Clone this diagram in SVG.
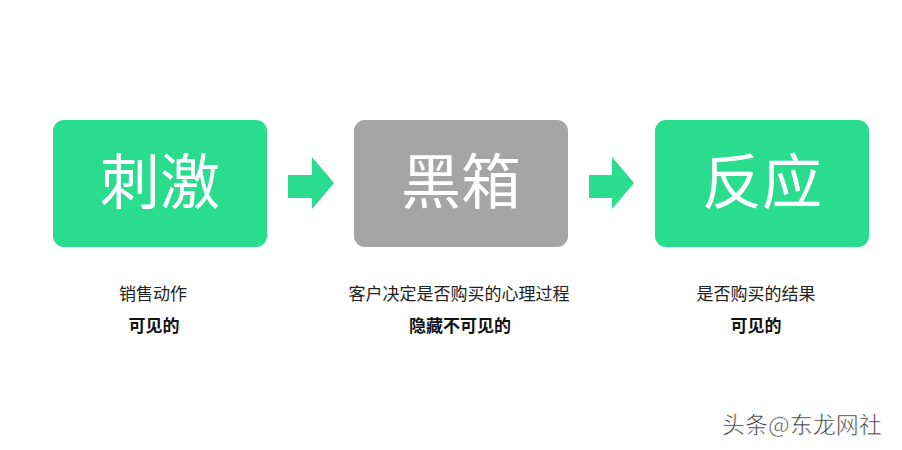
<svg xmlns="http://www.w3.org/2000/svg" width="902" height="450" viewBox="0 0 902 450">
<defs>
<style>
.green{fill:#2ADC8E}
.gray{fill:#A5A5A5}
.big{font-family:"Noto Sans CJK SC","Noto Sans",sans-serif;font-size:60px;fill:#ffffff;text-anchor:middle;font-weight:400}
.lab{font-family:"Noto Sans CJK SC",sans-serif;font-size:17px;fill:#222222;text-anchor:middle}
.bold{font-weight:bold;fill:#111111;font-size:17px}
.wm{font-family:"Noto Sans CJK SC",sans-serif;font-size:23px;fill:#333333;stroke:#ffffff;stroke-width:0.6}
</style>
</defs>
<rect width="902" height="450" fill="#ffffff"/>
<g id="node-stimulus">
<rect class="green" x="53" y="120" width="214" height="127" rx="11"/>
<text class="big" x="160" y="204">刺激</text>
<text class="lab" x="153" y="300">销售动作</text>
<text class="lab bold" x="154" y="332">可见的</text>
</g>
<g id="node-blackbox">
<rect class="gray" x="354" y="120" width="214" height="127" rx="11"/>
<text class="big" x="461" y="204">黑箱</text>
<text class="lab" x="459" y="300">客户决定是否购买的心理过程</text>
<text class="lab bold" x="460" y="332">隐藏不可见的</text>
</g>
<g id="node-response">
<rect class="green" x="655" y="120" width="214" height="127" rx="11"/>
<text class="big" x="762" y="204">反应</text>
<text class="lab" x="756" y="300">是否购买的结果</text>
<text class="lab bold" x="756" y="332">可见的</text>
</g>
<g id="connectors">
<polygon class="green" points="288,175 312,175 312,157 334,183 312,209 312,198 288,198"/>
<polygon class="green" points="589,175 612,175 612,157 634,183 612,209 612,198 589,198"/>
</g>
<text class="wm" x="722" y="433">头条@东龙网社</text>
</svg>
